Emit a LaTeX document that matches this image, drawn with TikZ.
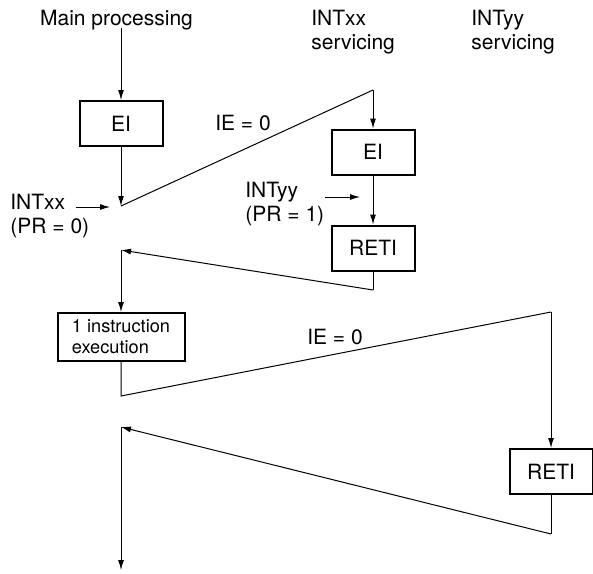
\documentclass[tikz,border=0pt]{standalone}
\usepackage{fontspec}
\setmainfont{TeX Gyre Heros}
\usetikzlibrary{arrows.meta}
\tikzset{
  insbox/.style={draw=black, line width=1pt, minimum width=41.5pt,
    minimum height=22.5pt, inner sep=2pt},
  seqline/.style={line width=0.5pt, draw=black},
  seqarr/.style={seqline, -{Latex[length=5pt,width=3pt]}},
  seqlab/.style={align=left, inner sep=0pt},
}

\begin{document}
\begin{tikzpicture}[x=0.5pt, y=-0.5pt, font=\fontsize{10.5}{12}\selectfont]
    \useasboundingbox (0,0) rectangle (593,573);
    % column headers
    \node[seqlab, anchor=north] (hmain) at (116.5,10) {Main processing};
    \node[seqlab, anchor=north west] (hxx) at (311,10) {INTxx\\servicing};
    \node[seqlab, anchor=north west] (hyy) at (471,10) {INTyy\\servicing};
    % main processing, first interrupt
    \node[insbox] (ei1) at (121,123.5) {EI};
    \coordinate (xx) at (121,206);
    \draw[seqarr] (ei1.north |- hmain.south) ++(0,-3) -- (ei1);
    \draw[seqarr] (ei1) -- (xx);
    \node[seqlab, anchor=west] (intxx) at (10,216) {INTxx\\(PR = 0)};
    \coordinate (xxin) at (76,207);
    \coordinate (xxtip) at (110,207);
    \draw[seqarr] (xxin) -- (xxtip);
    % INTxx servicing
    \coordinate (xxtop) at (373,90);
    \node (ie1) at (243,123) {IE = 0};
    \node[insbox] (ei2) at (373,152) {EI};
    \node[insbox] (reti1) at (373,248) {RETI};
    \draw[seqline] (xx) -- (xxtop);
    \draw[seqarr] (xxtop) -- (ei2);
    \draw[seqarr] (ei2) -- (reti1);
    \node[seqlab, anchor=west] (intyy) at (245,204) {INTyy\\(PR = 1)};
    \coordinate (yyin) at (325,197);
    \coordinate (yytip) at (360,197);
    \draw[seqarr] (yyin) -- (yytip);
    \coordinate (xxbot) at (373,290);
    \coordinate (xxret) at (121,250);
    \draw[seqline] (reti1) -- (xxbot);
    \draw[seqarr] (xxbot) -- (xxret);
    % one instruction, then INTyy servicing
    \node[insbox, align=left, minimum width=63.5pt, minimum height=24pt,
      font=\fontsize{9.1}{10.5}\selectfont] (instr) at (121,337)
      {1 instruction\\execution};
    \draw[seqarr] (xxret) -- (instr);
    \coordinate (yylow) at (121,396);
    \coordinate (yytop) at (551,312);
    \node (ie2) at (335,337) {IE = 0};
    \node[insbox] (reti2) at (551,471.5) {RETI};
    \draw[seqline] (instr) -- (yylow) -- (yytop);
    \draw[seqarr] (yytop) -- (reti2);
    \coordinate (yybot) at (551,534);
    \coordinate (yyret) at (121,427);
    \coordinate (mainend) at (121,570);
    \draw[seqline] (reti2) -- (yybot);
    \draw[seqarr] (yybot) -- (yyret);
    \draw[seqarr] (yyret) -- (mainend);
\end{tikzpicture}
\end{document}
